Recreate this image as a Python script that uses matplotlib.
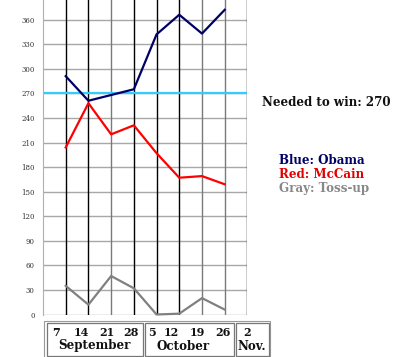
import matplotlib
matplotlib.use("Agg")
import matplotlib.pyplot as plt
from matplotlib.patches import Rectangle

# ---- data ----
weeks = [1, 2, 3, 4, 5, 6, 7, 8]
obama = [291, 261, 268, 275, 342, 366, 343, 372]
mccain = [204, 258, 220, 231, 197, 167, 169, 159]
tossup = [35, 12, 47, 32, 0, 1, 20, 6]
needed = 270
yticks = list(range(0, 361, 30))
day_labels = ["7", "14", "21", "28", "5", "12", "19", "26", "2"]
month_labels = ["September", "October", "Nov."]

W, H = 400, 357
fig = plt.figure(figsize=(W / 100, H / 100), dpi=100)
fig.patch.set_facecolor("white")

def fx(px):
    return px / W

def fy(py):
    return 1 - py / H

ax = fig.add_axes([fx(43), fy(314.5), fx(247.4) - fx(43), 314.5 / H])
ax.set_xlim(0, 9)
ax.set_ylim(0, 384)

# horizontal grid
for yv in yticks:
    ax.axhline(yv, color="#a8a8a8", lw=1.0, zorder=1)
# vertical grid
vcols = ["black", "black", "#7a7a7a", "black", "black", "black", "#7a7a7a", "#7a7a7a", "black"]
for i, c in enumerate(vcols):
    ax.axvline(i + 1, color=c, lw=1.0, zorder=1)

ax.axhline(needed, color="#33ccff", lw=1.6, zorder=2)

ax.plot(weeks, obama, color="#000066", lw=1.6, zorder=3, clip_on=False)
ax.plot(weeks, mccain, color="#ff0000", lw=1.6, zorder=3, clip_on=False)
ax.plot(weeks, tossup, color="#808080", lw=1.6, zorder=3, clip_on=False)

for s in ["top", "right", "bottom"]:
    ax.spines[s].set_visible(False)
ax.spines["left"].set_color("#b0b0b0")
ax.set_xticks([])
ax.set_yticks(yticks)
ax.set_yticklabels([str(v) for v in yticks], fontsize=5.0, family="DejaVu Serif",
                   color="#333333")
ax.tick_params(axis="y", length=0, pad=6)

serif = "DejaVu Serif"
fs = 8.6
fig.text(fx(261.7), fy(102.7), f"Needed to win: {needed}", fontsize=fs, family=serif,
         fontweight="bold", va="center", ha="left", color="#111111")
fig.text(fx(279.3), fy(160.7), "Blue: Obama", fontsize=fs, family=serif,
         fontweight="bold", va="center", color="#000066")
fig.text(fx(279.3), fy(174.3), "Red: McCain", fontsize=fs, family=serif,
         fontweight="bold", va="center", color="#e00000")
fig.text(fx(279.3), fy(188.3), "Gray: Toss-up", fontsize=fs, family=serif,
         fontweight="bold", va="center", color="#888888")

# bottom date table
table_cells = [(47, 143), (145, 234), (236, 269)]
fig.patches.append(Rectangle((fx(44), fy(357)), fx(270) - fx(44), (357 - 320.5) / H,
                             transform=fig.transFigure, fill=False,
                             edgecolor="#999999", lw=0.8))
for x0, x1 in table_cells:
    fig.patches.append(Rectangle((fx(x0), fy(355.5)), fx(x1) - fx(x0), (355.5 - 323) / H,
                                 transform=fig.transFigure, fill=False,
                                 edgecolor="#777777", lw=0.9))

day_x = [56, 81, 106.7, 131, 151.6, 171, 197, 222.5, 247]
for lab, x in zip(day_labels, day_x):
    fig.text(fx(x), fy(332), lab, fontsize=8.0, family=serif, fontweight="bold",
             ha="center", va="center", color="#111111")
month_x = [(94.5, "center"), (183, "center"), (237, "left")]
for lab, (x, ha) in zip(month_labels, month_x):
    fig.text(fx(x), fy(346), lab, fontsize=fs, family=serif, fontweight="bold",
             ha=ha, va="center", color="#111111")

fig.savefig("out.png", dpi=100)
